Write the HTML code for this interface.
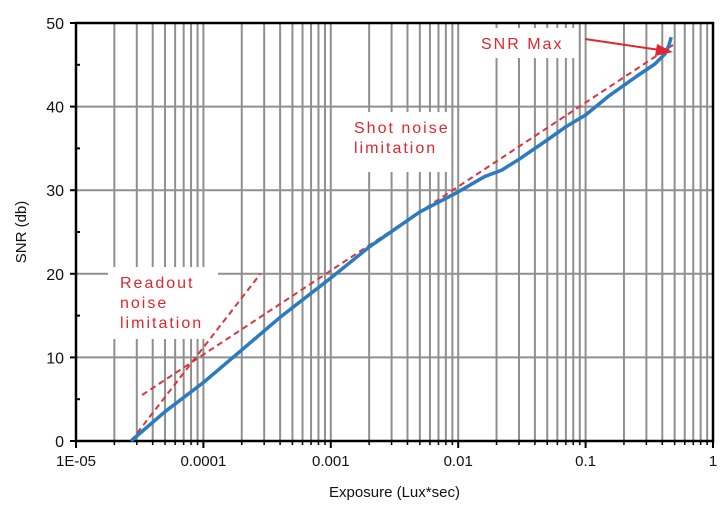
<!DOCTYPE html>
<html><head><meta charset="utf-8"><style>
body{margin:0;background:#fff}
svg{display:block;font-family:"Liberation Sans",sans-serif}
</style></head><body>
<svg id="c" width="724" height="505">
<g id="grid"></g>
<g id="boxes"></g>
<g id="axes"></g>
<g id="series"></g>
<g id="labels"></g>
</svg>
<script>
const xTickLabels=["1E-05","0.0001","0.001","0.01","0.1","1"];
const yTickValues=[0,10,20,30,40,50];
const snrX=[2.7e-5,5e-5,1e-4,2e-4,4e-4,1e-3,2e-3,5e-3,1e-2,1.6e-2,2.2e-2,3e-2,5e-2,7e-2,1e-1,1.5e-1,2.5e-1,3.5e-1,4.2e-1,4.5e-1,4.7e-1];
const snrY=[0,3.5,7,10.9,14.8,19.5,23.2,27.4,29.8,31.6,32.4,33.7,36.0,37.6,39.0,41.2,43.6,45.1,46.3,47.3,48.3];
const readoutX=[2.7e-5,2.8e-4];
const readoutY=[0,20];
const shotX=[3.3e-5,0.5];
const shotY=[5.5,47.5];
const X0=76,X1=713,Y0=441,Y1=23;
const NS="http://www.w3.org/2000/svg";
function sx(v){return X0+(Math.log10(v)+5)/5*(X1-X0);}
function sy(v){return Y0-(v/50)*(Y0-Y1);}
function mk(tag,attrs,parent){const e=document.createElementNS(NS,tag);for(const k in attrs)e.setAttribute(k,attrs[k]);document.getElementById(parent).appendChild(e);return e;}
for(let d=-5;d<0;d++){for(let m=1;m<=9;m++){const v=m*Math.pow(10,d);if(m===1&&d===-5)continue;
const l=mk('line',{x1:sx(v),x2:sx(v),y1:Y1,y2:Y0,stroke:'#8f8f8f','stroke-width':2},'grid');

}}
yTickValues.forEach(v=>{if(v===0||v===50)return;
const l=mk('line',{x1:X0,x2:X1,y1:sy(v),y2:sy(v),stroke:'#8f8f8f','stroke-width':2},'grid');

});
[[470,28,106,30],[343,112,108,60],[108,267,110,72]].forEach(b=>{
const r=mk('rect',{x:b[0],y:b[1],width:b[2],height:b[3],fill:'#fff'},'boxes');

});
const f=mk('rect',{x:X0,y:Y1,width:X1-X0,height:Y0-Y1,fill:'none',stroke:'#000','stroke-width':2.5},'axes');


yTickValues.forEach(v=>{
mk('line',{x1:X0-6,x2:X0,y1:sy(v),y2:sy(v),stroke:'#000','stroke-width':2},'axes');
if(v<50)mk('line',{x1:X0,x2:X0+4,y1:sy(v+5),y2:sy(v+5),stroke:'#000','stroke-width':2},'axes');
const t=mk('text',{x:X0-12,y:sy(v)+6,'text-anchor':'end','font-size':16,fill:'#111'},'axes');
t.textContent=v;

});
xTickLabels.forEach((s,i)=>{const px=sx(Math.pow(10,i-5));
mk('line',{x1:px,x2:px,y1:Y0,y2:Y0+7,stroke:'#000','stroke-width':2},'axes');
if(i<5)for(let m=2;m<=9;m++){const mx=sx(m*Math.pow(10,i-5));mk('line',{x1:mx,x2:mx,y1:Y0,y2:Y0+4,stroke:'#000','stroke-width':1.5},'axes');}
const t=mk('text',{x:px,y:Y0+25,'text-anchor':'middle','font-size':15,fill:'#111'},'axes');
t.textContent=s;

});
let t=mk('text',{x:(X0+X1)/2,y:497,'text-anchor':'middle','font-size':15,fill:'#111'},'axes');
t.textContent='Exposure (Lux*sec)';


t=mk('text',{x:26,y:232,'text-anchor':'middle','font-size':15,fill:'#111',transform:'rotate(-90 26 232)'},'axes');
t.textContent='SNR (db)';


function line(xs,ys){return xs.map((v,i)=>(i?'L':'M')+sx(v).toFixed(1)+','+sy(ys[i]).toFixed(1)).join(' ');}
let p=mk('path',{d:line(readoutX,readoutY),stroke:'#d9363e','stroke-width':2,fill:'none','stroke-dasharray':'6 4'},'series');


p=mk('path',{d:line(shotX,shotY),stroke:'#d9363e','stroke-width':2,fill:'none','stroke-dasharray':'6 4'},'series');


p=mk('path',{d:line(snrX,snrY),stroke:'#2a7bc0','stroke-width':3.5,fill:'none','stroke-linejoin':'round'},'series');


p=mk('path',{d:'M585,39 L660,50',stroke:'#e0262e','stroke-width':2,fill:'none'},'labels');


p=mk('path',{d:'M673,52 L657,44 L655,56 Z',fill:'#e0262e'},'labels');


function lbl(lines,x,y,name){const g=mk('text',{x:x,y:y,'font-size':16,fill:'#e0262e','letter-spacing':'2'},'labels');


lines.forEach((s,i)=>{const ts=document.createElementNS(NS,'tspan');ts.setAttribute('x',x);ts.setAttribute('dy',i?20:0);ts.textContent=s;g.appendChild(ts);});}
lbl(['SNR Max'],481,49,'snr-max-label');
lbl(['Shot noise','limitation'],354,133,'shot-noise-label');
lbl(['Readout','noise','limitation'],120,288,'readout-noise-label');
</script>
</body></html>
